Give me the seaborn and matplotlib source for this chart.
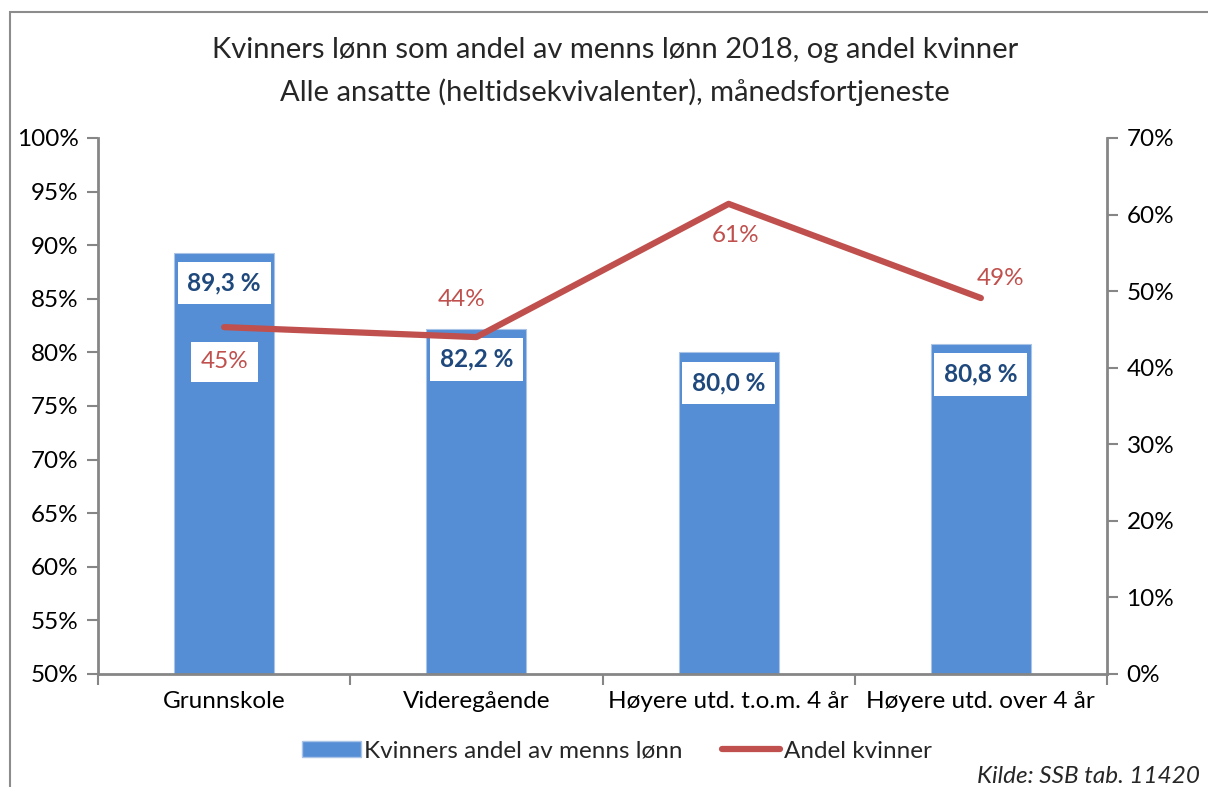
import matplotlib
matplotlib.use("Agg")
import matplotlib.pyplot as plt
import matplotlib.patches as mpatches
from matplotlib.lines import Line2D
from matplotlib.ticker import FixedLocator, PercentFormatter
import seaborn as sns
import pandas as pd

categories = ["Grunnskole", "Videregående", "Høyere utd. t.o.m. 4 år", "Høyere utd. over 4 år"]
lonn_andel = [89.3, 82.2, 80.0, 80.8]
andel_kvinner = [45.3, 44.0, 61.4, 49.1]
andel_labels = ["45%", "44%", "61%", "49%"]
title_lines = ["Kvinners lønn som andel av menns lønn 2018, og andel kvinner",
               "Alle ansatte (heltidsekvivalenter), månedsfortjeneste"]
legend_labels = ["Kvinners andel av menns lønn", "Andel kvinner"]
source = "Kilde: SSB tab. 11420"

sns.set_theme(style="white")
plt.rcParams['font.family'] = ['Lato', 'DejaVu Sans']

BAR = "#558ED5"
LINE = "#C0504D"
LBL = "#1F497D"
GREY = "#868686"
FS = 17.5

df = pd.DataFrame({"kat": categories, "lonn": lonn_andel, "kv": andel_kvinner})

fig = plt.figure(figsize=(12.08, 7.87), dpi=100)
# border
fig.add_artist(mpatches.Rectangle((10/1208, -0.05), 1.2, (787-12)/787 + 0.05,
                                  transform=fig.transFigure, fill=False,
                                  edgecolor="#8c8c8c", lw=1.5))
ax = fig.add_axes([98/1208, (787-674)/787, (1107-98)/1208, (674-138)/787])
sns.barplot(data=df, x="kat", y="lonn", color=BAR, width=100/252, ax=ax,
            edgecolor="#A9C4E6", linewidth=0.8, saturation=1)
ax.set_ylim(50, 100)
ax.set_xlim(-0.5, 3.5)
ax.set_xlabel("")
ax.set_ylabel("")
ax.yaxis.set_major_locator(FixedLocator(range(50, 101, 5)))
ax.yaxis.set_major_formatter(PercentFormatter(decimals=0))
ax.tick_params(axis="y", direction="out", length=8, width=1.5, color=GREY,
               labelsize=FS, labelcolor="black", left=True, pad=6)
ax.set_xticks(range(4))
ax.set_xticklabels(categories)
ax.tick_params(axis="x", length=0, labelsize=FS, labelcolor="black", pad=12)
ax.set_xticks([-0.5, 0.5, 1.5, 2.5, 3.5], minor=True)
ax.tick_params(axis="x", which="minor", direction="out", length=8, width=1.5,
               color=GREY, bottom=True)
for s in ["left", "bottom"]:
    ax.spines[s].set_color(GREY)
    ax.spines[s].set_linewidth(2)
ax.spines["top"].set_visible(False)
ax.spines["right"].set_visible(False)

for i, v in enumerate(lonn_andel):
    ax.annotate(f"{v:.1f} %".replace(".", ","), (i, v), xytext=(0, -22),
                textcoords="offset points", ha="center", va="center",
                fontsize=FS, fontweight="bold", color=LBL,
                bbox=dict(boxstyle="square,pad=0.4", fc="white", ec="none"))

ax2 = ax.twinx()
sns.lineplot(x=list(range(4)), y=andel_kvinner, ax=ax2, color=LINE, lw=4.5,
             sort=False, legend=False)
ax2.set_ylim(0, 70)
ax2.set_xlim(-0.5, 3.5)
ax2.yaxis.set_major_locator(FixedLocator(range(0, 71, 10)))
ax2.yaxis.set_major_formatter(PercentFormatter(decimals=0))
ax2.tick_params(axis="y", direction="out", length=8, width=1.5, color=GREY,
                labelsize=FS, labelcolor="black", right=True, pad=6)
for s in ["left", "top", "bottom"]:
    ax2.spines[s].set_visible(False)
ax2.spines["right"].set_color(GREY)
ax2.spines["right"].set_linewidth(2)

offsets = [(0, -25), (-11, 27), (5, -23), (14, 14)]
for i, (v, t) in enumerate(zip(andel_kvinner, andel_labels)):
    kw = {}
    if i == 0:
        kw["bbox"] = dict(boxstyle="square,pad=0.4", fc="white", ec="none")
    ax2.annotate(t, (i, v), xytext=offsets[i], textcoords="offset points",
                 ha="center", va="center", fontsize=FS, color=LINE, **kw)

fig.text(615/1208, (787-50)/787, title_lines[0], ha="center", va="center", fontsize=21)
fig.text(615/1208, (787-92)/787, title_lines[1], ha="center", va="center", fontsize=21)

handles = [mpatches.Patch(facecolor=BAR, edgecolor="#A9C4E6"),
           Line2D([], [], color=LINE, lw=4.5)]
fig.legend(handles, legend_labels, loc="center", bbox_to_anchor=(617/1208, (787-751)/787),
           ncol=2, frameon=False, fontsize=FS, handlelength=2.4, handleheight=0.6,
           handletextpad=0.15, columnspacing=1.6)

fig.text(1200/1208, (787-783)/787, source, ha="right", va="baseline",
         fontsize=FS, style="italic")

fig.savefig("out.png", dpi=100)
